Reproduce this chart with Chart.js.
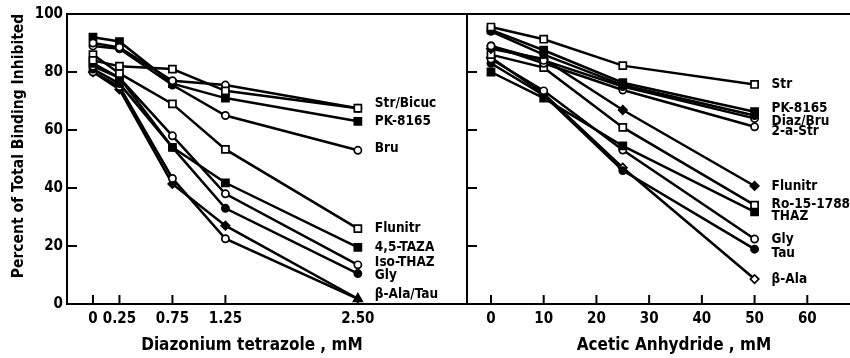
<!DOCTYPE html>
<html><head><meta charset="utf-8">
<script src="https://cdn.jsdelivr.net/npm/chart.js@4/dist/chart.umd.min.js"></script>
<style>
html,body{margin:0;padding:0;background:#fff;}
#wrap{position:relative;width:850px;height:358px;overflow:hidden;}
#c1{position:absolute;left:0;top:0;}
#c2{position:absolute;left:466px;top:0;}
</style></head>
<body><div id="wrap"><canvas id="c1" width="469" height="358"></canvas><canvas id="c2" width="384" height="358"></canvas></div>
<script>
// ---------- DATA ----------
const doseL = [0, 0.25, 0.75, 1.25, 2.5];
const doseTicksL = [0, 0.25, 0.75, 1.25, 2.5];
const doseTickLabelsL = ['0', '0.25', '0.75', '1.25', '2.50'];
const strL      = [84, 82, 81, 73.5, 67.5];
const bicucL    = [90, 88.5, 77, 75.5, 67.5];
const pkL       = [92, 90.5, 76, 71, 63];
const bruL      = [89, 88, 75.5, 65, 53];
const flunitrL  = [86, 79.5, 69, 53.3, 26];
const tazaL     = [83, 78, 54, 41.8, 19.5];
const isoThazL  = [82, 78, 58, 38, 13.5];
const glyL      = [81, 76, 54, 33, 10.5];
const betaAlaL  = [80, 75, 43.3, 22.5, 1.8];
const tauL      = [80, 74, 41.4, 27, 1.8];
const endLabelsL = ['Str/Bicuc', 'PK-8165', 'Bru', 'Flunitr', '4,5-TAZA', 'Iso-THAZ', 'Gly', 'β-Ala/Tau'];
const endLabelValsL = [69.3, 62.8, 53.6, 26.1, 19.4, 14.2, 9.8, 3.4];

const doseR = [0, 10, 25, 50];
const doseTicksR = [0, 10, 20, 30, 40, 50, 60];
const strR      = [95.5, 91.3, 82.2, 75.7];
const pkR       = [94.5, 87.5, 76.3, 66.3];
const diazR     = [94, 86, 75.5, 65];
const bruR      = [89, 84, 75, 64];
const twoAStrR  = [89, 83, 73.8, 61.1];
const flunitrR  = [88, 84.5, 66.9, 40.7];
const roR       = [86, 81.5, 60.9, 34.1];
const thazR     = [80, 71, 54.5, 31.8];
const glyR      = [84.5, 73.5, 53.1, 22.4];
const tauR      = [83, 72, 46, 18.9];
const betaAlaR  = [85, 72.5, 47, 8.6];
const endLabelsR = ['Str', 'PK-8165', 'Diaz/Bru', '2-a-Str', 'Flunitr', 'Ro-15-1788', 'THAZ', 'Gly', 'Tau', 'β-Ala'];
const endLabelValsR = [75.8, 67.5, 63.1, 59.4, 40.5, 34.4, 30.1, 22.1, 17.5, 8.5];

const yTicks = [0, 20, 40, 60, 80, 100];
const yTitle = 'Percent of Total Binding Inhibited';
const xTitleL = 'Diazonium tetrazole , mM';
const xTitleR = 'Acetic Anhydride , mM';

// ---------- STYLE ----------
const FONT = '"DejaVu Sans Condensed", "DejaVu Sans", sans-serif';
Chart.defaults.font.family = FONT;
Chart.defaults.font.weight = 'bold';
Chart.defaults.color = '#000';

const MK = {
  openSq:   {pointStyle: 'rect', pointRadius: 5, pointBackgroundColor: '#fff'},
  fillSq:   {pointStyle: 'rect', pointRadius: 5, pointBackgroundColor: '#000'},
  openCir:  {pointStyle: 'circle', pointRadius: 3.6, pointBackgroundColor: '#fff'},
  fillCir:  {pointStyle: 'circle', pointRadius: 3.6, pointBackgroundColor: '#000'},
  fillDia:  {pointStyle: 'rectRot', pointRadius: 4.2, pointBackgroundColor: '#000'},
  openDia:  {pointStyle: 'rectRot', pointRadius: 4.2, pointBackgroundColor: '#fff'},
};
function ds(xs, ys, mk, extra) {
  return Object.assign({
    data: xs.map((x, i) => ({x: x, y: ys[i]})),
    borderColor: '#000', borderWidth: 2.5,
    pointBorderColor: '#000', pointBorderWidth: 1.7,
    tension: 0, fill: false
  }, mk, extra || {});
}

function framePlugin(sides, xTitle, titleCenterVal, endVal, endLabels, endVals, drawYTitle) {
  return {
    id: 'frame',
    afterDraw(chart) {
      const {ctx, chartArea: a, scales} = chart;
      const xs = scales.x, ys = scales.y;
      ctx.save();
      ctx.strokeStyle = '#000';
      ctx.lineWidth = 2;
      ctx.lineCap = 'square';
      ctx.beginPath();
      ctx.moveTo(a.left, a.top); ctx.lineTo(a.right + (sides.right ? 0 : 2), a.top);
      ctx.moveTo(a.left, a.bottom); ctx.lineTo(a.right + (sides.right ? 0 : 2), a.bottom);
      ctx.moveTo(a.left, a.top); ctx.lineTo(a.left, a.bottom);
      if (sides.right) { ctx.moveTo(a.right, a.top); ctx.lineTo(a.right, a.bottom); }
      ctx.stroke();
      // inward tick marks
      ctx.beginPath();
      ys.ticks.forEach(t => {
        if (t.value === 0) return;
        const py = ys.getPixelForValue(t.value);
        ctx.moveTo(a.left, py); ctx.lineTo(a.left + 9, py);
      });
      xs.ticks.forEach(t => {
        const px = xs.getPixelForValue(t.value);
        ctx.moveTo(px, a.bottom); ctx.lineTo(px, a.bottom - 8);
      });
      ctx.stroke();
      // end labels
      ctx.fillStyle = '#000';
      ctx.font = 'bold 13.5px ' + FONT;
      ctx.textAlign = 'left';
      ctx.textBaseline = 'middle';
      const ex = xs.getPixelForValue(endVal) + 17;
      endLabels.forEach((txt, i) => {
        ctx.fillText(txt, ex, ys.getPixelForValue(endVals[i]));
      });
      // x title
      ctx.font = 'bold 17px ' + FONT;
      ctx.textAlign = 'center';
      ctx.textBaseline = 'middle';
      ctx.fillText(xTitle, xs.getPixelForValue(titleCenterVal), 346);
      // y title
      if (drawYTitle) {
        ctx.save();
        ctx.translate(19, ys.getPixelForValue(54.5));
        ctx.rotate(-Math.PI / 2);
        ctx.font = 'bold 15.5px ' + FONT;
        ctx.fillText(yTitle, 0, 0);
        ctx.restore();
      }
      ctx.restore();
    }
  };
}

const baseOpts = {
  responsive: false, animation: false, devicePixelRatio: 1, events: [],
  plugins: {legend: {display: false}, tooltip: {enabled: false}},
};

// ---------- LEFT CHART ----------
new Chart(document.getElementById('c1'), {
  type: 'line',
  data: {datasets: [
    ds(doseL, strL, MK.openSq),
    ds(doseL, bicucL, MK.openCir),
    ds(doseL, pkL, MK.fillSq),
    ds(doseL, bruL, MK.openCir),
    ds(doseL, flunitrL, MK.openSq),
    ds(doseL, tazaL, MK.fillSq),
    ds(doseL, isoThazL, MK.openCir),
    ds(doseL, glyL, MK.fillCir),
    ds(doseL, betaAlaL, MK.openCir, {pointRadius: [3.6, 3.6, 3.6, 3.6, 0]}),
    ds(doseL, tauL, MK.fillDia, {pointStyle: ['rectRot','rectRot','rectRot','rectRot','triangle'], pointRadius: [4.2,4.2,4.2,4.2,5]}),
  ]},
  options: Object.assign({}, baseOpts, {
    layout: {autoPadding: false, padding: {top: 14, right: 2, left: 0, bottom: 0}},
    scales: {
      x: {type: 'linear', min: -0.245, max: 3.53,
          grid: {display: false, drawTicks: false}, border: {display: false},
          afterBuildTicks: s => { s.ticks = doseTicksL.map(v => ({value: v})); },
          afterFit: s => { s.height = 54; },
          ticks: {padding: 6, font: {size: 15, weight: 'bold'}, maxRotation: 0, autoSkip: false,
                  callback: v => doseTickLabelsL[doseTicksL.indexOf(v)]}},
      y: {type: 'linear', min: 0, max: 100,
          grid: {display: false, drawTicks: false}, border: {display: false},
          afterBuildTicks: s => { s.ticks = yTicks.map(v => ({value: v})); },
          afterFit: s => { s.width = 67; },
          ticks: {padding: 4, font: {size: 15, weight: 'bold'}}}
    }
  }),
  plugins: [framePlugin({right: true}, xTitleL, 1.5, 2.5, endLabelsL, endLabelValsL, true)]
});

// ---------- RIGHT CHART ----------
new Chart(document.getElementById('c2'), {
  type: 'line',
  data: {datasets: [
    ds(doseR, strR, MK.openSq),
    ds(doseR, pkR, MK.fillSq),
    ds(doseR, diazR, MK.fillCir),
    ds(doseR, bruR, MK.openCir),
    ds(doseR, twoAStrR, MK.openCir),
    ds(doseR, flunitrR, MK.fillDia),
    ds(doseR, roR, MK.openSq),
    ds(doseR, thazR, MK.fillSq),
    ds(doseR, glyR, MK.openCir),
    ds(doseR, tauR, MK.fillCir),
    ds(doseR, betaAlaR, MK.openDia),
  ]},
  options: Object.assign({}, baseOpts, {
    layout: {autoPadding: false, padding: {top: 14, right: 0, left: 1, bottom: 0}},
    scales: {
      x: {type: 'linear', min: -4.55, max: 68.1,
          grid: {display: false, drawTicks: false}, border: {display: false},
          afterBuildTicks: s => { s.ticks = doseTicksR.map(v => ({value: v})); },
          afterFit: s => { s.height = 54; },
          ticks: {padding: 6, font: {size: 15, weight: 'bold'}, maxRotation: 0, autoSkip: false}},
      y: {type: 'linear', min: 0, max: 100, display: false,
          afterBuildTicks: s => { s.ticks = yTicks.map(v => ({value: v})); }}
    }
  }),
  plugins: [framePlugin({right: false}, xTitleR, 34.7, 50, endLabelsR, endLabelValsR, false)]
});
</script>
</body></html>
